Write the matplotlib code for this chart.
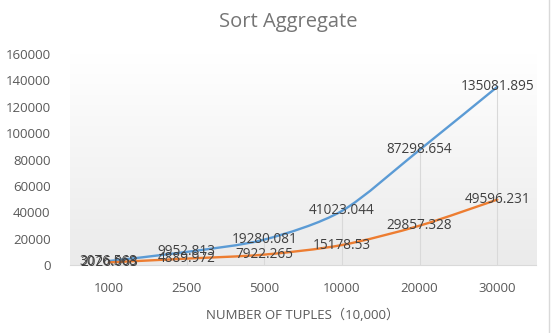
import numpy as np
import matplotlib
matplotlib.use("Agg")
import matplotlib.pyplot as plt
from matplotlib.path import Path
from matplotlib.patches import PathPatch

categories = ["1000", "2500", "5000", "10000", "20000", "30000"]
series_blue = [3076.568, 9952.813, 19280.081, 41023.044, 87298.654, 135081.895]
series_orange = [2026.063, 4889.972, 7922.265, 15178.53, 29857.328, 49596.231]
y_ticks = [0, 20000, 40000, 60000, 80000, 100000, 120000, 140000, 160000]

title = "Sort Aggregate"
x_label = "NUMBER OF TUPLES\uff0810,000\uff09"

plt.rcParams["font.family"] = ["Open Sans", "Noto Sans CJK SC", "DejaVu Sans"]

fig = plt.figure(figsize=(5.51, 3.33), dpi=100)
ax = fig.add_axes([0.127, 0.204, 0.846, 0.634])

x = np.arange(len(categories))
ax.set_xlim(-0.5, len(categories) - 0.5)
ax.set_ylim(0, 160000)

# gradient fill behind the plot area
grad = np.linspace(0.0, 1.0, 256).reshape(-1, 1, 1)
top = np.array([1.0, 1.0, 1.0])
bottom = np.array([0.92, 0.92, 0.92])
img = top * (1 - grad) + bottom * grad
ax.imshow(img, extent=[0, 1, 0, 1], transform=ax.transAxes, aspect="auto", zorder=0)


def smooth_path(xs, ys, tension=0.14):
    pts = np.column_stack([xs, ys]).astype(float)
    verts = [pts[0]]
    codes = [Path.MOVETO]
    n = len(pts)
    for i in range(n - 1):
        p0 = pts[i - 1] if i > 0 else pts[i]
        p1 = pts[i]
        p2 = pts[i + 1]
        p3 = pts[i + 2] if i + 2 < n else pts[i + 1]
        c1 = p1 + (p2 - p0) * tension
        c2 = p2 - (p3 - p1) * tension
        verts += [c1, c2, p2]
        codes += [Path.CURVE4] * 3
    return Path(verts, codes)


# drop lines from the highest point down to the axis
for xi, a, b in zip(x, series_blue, series_orange):
    ax.vlines(xi, 0, max(a, b), color="#d9d9d9", lw=0.8, zorder=1)

for ys, col in [(series_blue, "#5b9bd5"), (series_orange, "#ed7d31")]:
    patch = PathPatch(smooth_path(x, ys), facecolor="none", edgecolor=col,
                      lw=1.7, capstyle="round", joinstyle="round", zorder=3)
    ax.add_patch(patch)

for ys in (series_blue, series_orange):
    for xi, v in zip(x, ys):
        ax.text(xi, v, str(v), ha="center", va="center",
                fontsize=9.8, color="#404040", zorder=4)

ax.set_xticks(x)
ax.set_xticklabels(categories)
ax.set_yticks(y_ticks)
ax.set_yticklabels([str(t) for t in y_ticks])
ax.tick_params(axis="both", length=0, labelsize=9.5, labelcolor="#595959")
ax.tick_params(axis="x", pad=12)
ax.tick_params(axis="y", pad=14)

for s in ["top", "right", "left"]:
    ax.spines[s].set_visible(False)
ax.spines["bottom"].set_color("#d9d9d9")
ax.spines["bottom"].set_linewidth(0.8)

ax.set_xlabel(x_label, fontsize=9.5, color="#595959", labelpad=10)
fig.text(0.523, 0.935, title, ha="center", va="center", fontsize=14.5, color="#757575")

fig.add_artist(plt.Line2D([0.997, 0.997], [0, 1], transform=fig.transFigure,
                          color="#d9d9d9", lw=1))

fig.savefig("out.png", dpi=100)
